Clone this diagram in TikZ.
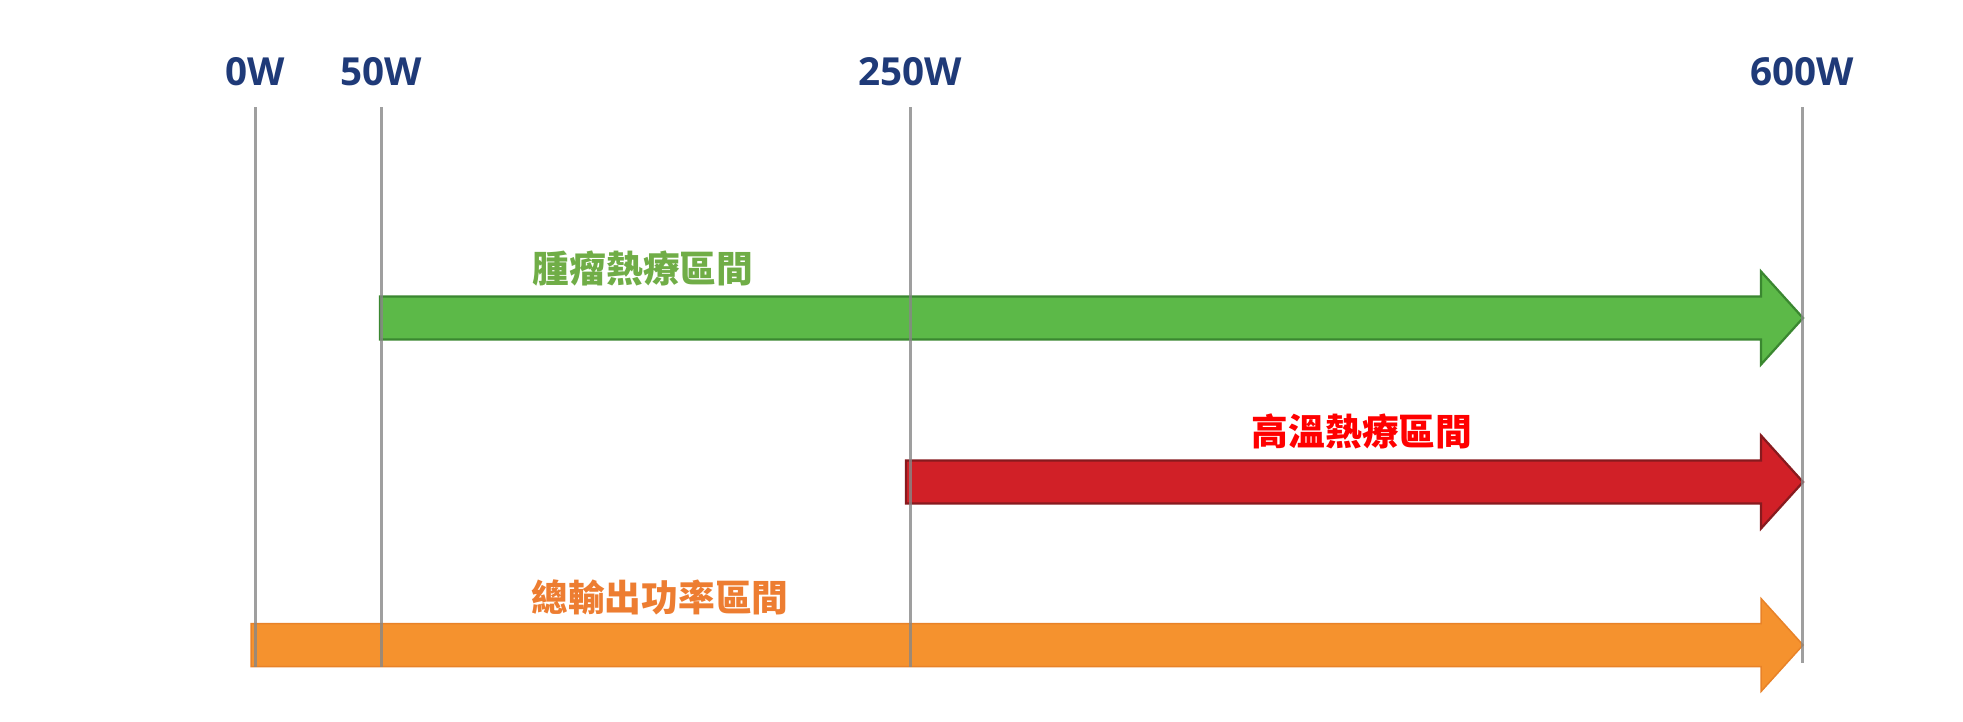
\documentclass[tikz,border=0pt]{standalone}
\usepackage{fontspec}
\setmainfont{Open Sans}
\newfontfamily\cjk{Noto Sans CJK TC}
\usepackage{xcolor}
\usetikzlibrary{calc}
\definecolor{wattblue}{RGB}{31, 58, 120}
\definecolor{tickgray}{RGB}{135, 135, 135}
\definecolor{tumorfill}{RGB}{92, 185, 72}
\definecolor{tumordraw}{RGB}{58, 135, 48}
\definecolor{tumortext}{RGB}{112, 173, 71}
\definecolor{hotfill}{RGB}{209, 32, 39}
\definecolor{hotdraw}{RGB}{135, 26, 30}
\definecolor{hottext}{RGB}{255, 0, 0}
\definecolor{totalfill}{RGB}{245, 146, 46}
\definecolor{totaldraw}{RGB}{232, 130, 40}
\definecolor{totaltext}{RGB}{237, 125, 49}

% block arrow from the first coordinate to the second (same height)
\newcommand{\bararrow}[3]{%
  \draw[#1] let \p1 = (#2), \p2 = (#3) in
    (\x1, \y1+0.43cm) -- (\x2-0.84cm, \y1+0.43cm) -- (\x2-0.84cm, \y1+0.93cm)
    -- (\x2, \y1) -- (\x2-0.84cm, \y1-0.93cm) -- (\x2-0.84cm, \y1-0.43cm)
    -- (\x1, \y1-0.43cm) -- cycle;}

\begin{document}
\begin{tikzpicture}[
    x = 0.02cm, y = -0.02cm,
    watt/.style = {font=\bfseries\fontsize{22}{26}\selectfont, text=wattblue},
    tick/.style = {draw=tickgray, line width=0.06cm, opacity=0.8},
    band/.style = {font=\cjk\bfseries\fontsize{20.9}{25}\selectfont},
    tumorbar/.style = {fill=tumorfill, draw=tumordraw, line width=0.045cm, line join=miter},
    hotbar/.style = {fill=hotfill, draw=hotdraw, line width=0.045cm, line join=miter},
    totalbar/.style = {fill=totalfill, draw=totaldraw, line width=0.03cm, line join=miter}
]
  \useasboundingbox (0,0) rectangle (1963,721);

  % power marks
  \node[watt] (w0)   at (255, 72)  {0W};
  \node[watt] (w50)  at (381, 72)  {50W};
  \node[watt] (w250) at (910, 72)  {250W};
  \node[watt] (w600) at (1802, 72) {600W};

  \coordinate (top0)   at (255, 107);
  \coordinate (top50)  at (381, 107);
  \coordinate (top250) at (910, 107);
  \coordinate (top600) at (1802, 107);
  \coordinate (bot0)   at (255, 667);
  \coordinate (bot50)  at (381, 667);
  \coordinate (bot250) at (910, 667);
  \coordinate (bot600) at (1802, 663);

  % bands
  \coordinate (tumorstart) at (380, 318);
  \coordinate (tumorend)   at (1803, 318);
  \coordinate (hotstart)   at (906, 482);
  \coordinate (hotend)     at (1803, 482);
  \coordinate (totalstart) at (251, 645);
  \coordinate (totalend)   at (1803, 645);

  \bararrow{tumorbar}{tumorstart}{tumorend}
  \bararrow{hotbar}{hotstart}{hotend}
  \bararrow{totalbar}{totalstart}{totalend}

  \node[band, text=tumortext] (tumor) at (643, 269)  {腫瘤熱療區間};
  \node[band, text=hottext]   (hot)   at (1362, 431) {高溫熱療區間};
  \node[band, text=totaltext] (total) at (660, 597)  {總輸出功率區間};

  \draw[tick] (top0) -- (bot0);
  \draw[tick] (top50) -- (bot50);
  \draw[tick] (top250) -- (bot250);
  \draw[tick] (top600) -- (bot600);
\end{tikzpicture}
\end{document}
